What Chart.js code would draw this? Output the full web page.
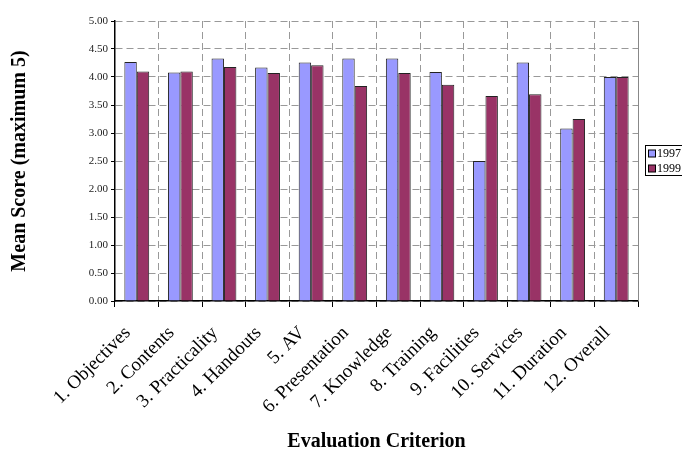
<!DOCTYPE html>
<html>
<head>
<meta charset="utf-8">
<script src="https://cdn.jsdelivr.net/npm/chart.js@4.4.1/dist/chart.umd.min.js"></script>
<style>
  html, body { margin: 0; padding: 0; background: #fff; }
  #wrap { width: 682px; height: 450px; position: relative; }
</style>
</head>
<body>
<div id="wrap"><canvas id="chart"></canvas></div>
<script>
const criteria = [
  "1. Objectives", "2. Contents", "3. Practicality", "4. Handouts", "5. AV",
  "6. Presentation", "7. Knowledge", "8. Training", "9. Facilities",
  "10. Services", "11. Duration", "12. Overall"
];
const scores1997 = [4.27, 4.08, 4.33, 4.17, 4.26, 4.33, 4.33, 4.09, 2.50, 4.26, 3.08, 4.00];
const scores1999 = [4.10, 4.10, 4.18, 4.07, 4.21, 3.84, 4.07, 3.86, 3.66, 3.69, 3.25, 4.00];
const yTicks = [0, 0.5, 1, 1.5, 2, 2.5, 3, 3.5, 4, 4.5, 5];

const serif = "'Liberation Serif', 'Times New Roman', serif";

// legend with a frame, like the original
const boxLegend = {
  id: "boxLegend",
  afterDraw(chart) {
    const ctx = chart.ctx;
    const x = 645.5, y = 145.5, w = 40, h = 30;
    ctx.save();
    ctx.strokeStyle = "#000";
    ctx.lineWidth = 1;
    ctx.strokeRect(x, y, w, h);
    ctx.font = "12px " + serif;
    ctx.textBaseline = "middle";
    chart.data.datasets.forEach((ds, i) => {
      const cy = y + 8 + i * 15;
      ctx.fillStyle = ds.backgroundColor;
      ctx.fillRect(x + 3, cy - 3.5, 7, 7);
      ctx.strokeRect(x + 3, cy - 3.5, 7, 7);
      ctx.fillStyle = "#000";
      ctx.fillText(ds.label, x + 11.5, cy + 0.5);
    });
    ctx.restore();
  }
};

// solid frame on the right edge of the plot area
const plotFrame = {
  id: "plotFrame",
  afterDatasetsDraw(chart) {
    const a = chart.chartArea, ctx = chart.ctx;
    ctx.save();
    ctx.strokeStyle = "#888";
    ctx.lineWidth = 1;
    ctx.beginPath();
    ctx.moveTo(Math.round(a.right) + 0.5, a.top);
    ctx.lineTo(Math.round(a.right) + 0.5, a.bottom);
    ctx.stroke();
    ctx.restore();
  }
};

new Chart(document.getElementById("chart"), {
  type: "bar",
  data: {
    labels: criteria,
    datasets: [
      { label: "1997", data: scores1997, backgroundColor: "#9999FF", borderColor: "#222", borderWidth: 1 },
      { label: "1999", data: scores1999, backgroundColor: "#993366", borderColor: "#222", borderWidth: 1 }
    ]
  },
  options: {
    responsive: true,
    maintainAspectRatio: false,
    animation: false,
    layout: { padding: { top: 21, right: 44, bottom: 0, left: 0 } },
    datasets: { bar: { categoryPercentage: 0.57, barPercentage: 1.0 } },
    plugins: { legend: { display: false }, tooltip: { enabled: false } },
    scales: {
      x: {
        grid: {
          color: "#999",
          lineWidth: 1,
          offset: true,
          tickLength: 6,
          tickColor: "#000",
          tickBorderDash: []
        },
        border: { display: true, color: "#000", width: 1.5, dash: [7, 4] },
        ticks: {
          autoSkip: false,
          minRotation: 45,
          maxRotation: 45,
          padding: 15,
          labelOffset: -9,
          color: "#000",
          font: { family: serif, size: 19 }
        },
        title: {
          display: true,
          text: "Evaluation Criterion",
          color: "#000",
          font: { family: serif, size: 20, weight: "bold", lineHeight: 0.85 },
          padding: { top: 0, bottom: 0 }
        },
        afterFit(scale) { scale.height = 149; }
      },
      y: {
        min: 0,
        max: 5,
        afterBuildTicks(scale) { scale.ticks = yTicks.map(v => ({ value: v })); },
        grid: {
          color: "#999",
          lineWidth: 1,
          tickLength: 4,
          tickColor: "#000",
          tickBorderDash: []
        },
        border: { display: true, color: "#000", width: 1.5, dash: [7, 4] },
        ticks: {
          padding: 3,
          color: "#222",
          font: { family: serif, size: 11 },
          callback: v => Number(v).toFixed(2)
        },
        title: {
          display: true,
          text: "Mean Score (maximum 5)",
          color: "#000",
          font: { family: serif, size: 20, weight: "bold", lineHeight: 1.2 },
          padding: { top: 8, bottom: 0 }
        },
        afterFit(scale) { scale.width = 115; }
      }
    }
  },
  plugins: [plotFrame, boxLegend]
});
</script>
</body>
</html>
